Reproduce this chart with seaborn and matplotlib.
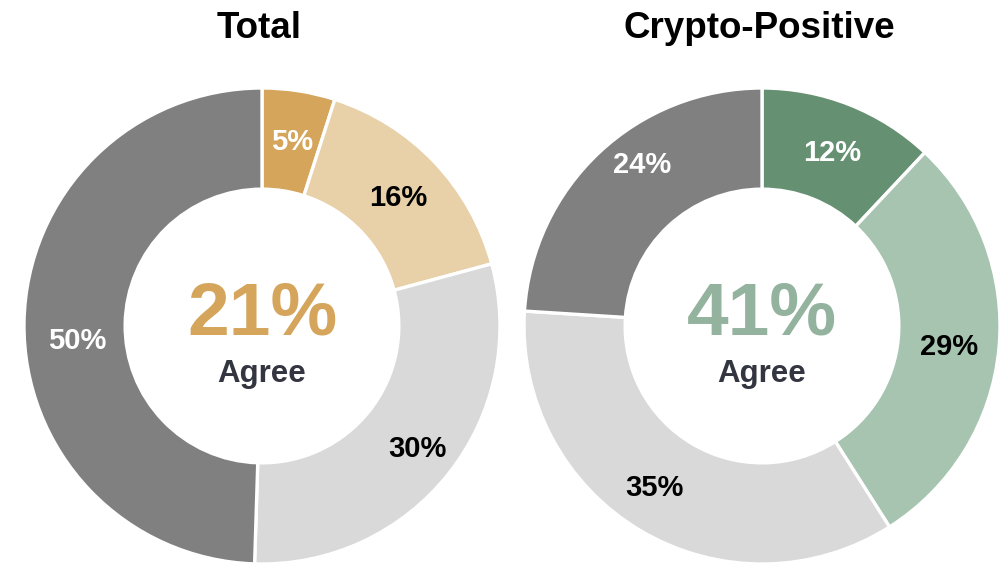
import matplotlib
matplotlib.use("Agg")
import matplotlib.pyplot as plt
import seaborn as sns

sns.set_theme(style="white")
plt.rcParams["font.family"] = ["Liberation Sans", "DejaVu Sans"]

# Survey answer shares, clockwise from the top
total_values = [5, 16, 30, 50]
total_colors = ["#D4A55B", "#E8D0A9", "#D9D9D9", "#808080"]
total_label_colors = ["white", "black", "black", "white"]
total_agree = 21

crypto_values = [12, 29, 35, 24]
crypto_colors = ["#659072", "#A6C4B0", "#D9D9D9", "#808080"]
crypto_label_colors = ["white", "black", "black", "white"]
crypto_agree = 41

titles = ["Total", "Crypto-Positive"]

# Small label nudges in pixels (right, down) away from the ring midline
total_nudges = [(1, 2), (0, 2), (8, 6), (3, 18)]
crypto_nudges = [(1, 2), (0, 3), (-12, 0), (9, -24)]

W, H = 1005, 569
fig = plt.figure(figsize=(W / 100, H / 100), dpi=100)
fig.patch.set_facecolor("white")

R_PX = 238
centers = [(262, 326), (762, 326)]

charts = [
    (total_values, total_colors, total_label_colors, total_agree, "#D4A55B", total_nudges),
    (crypto_values, crypto_colors, crypto_label_colors, crypto_agree, "#94B39E", crypto_nudges),
]

for (cx, cy), title, (vals, cols, lcols, agree, acol, nudges) in zip(centers, titles, charts):
    ax = fig.add_axes([(cx - R_PX) / W, (H - cy - R_PX) / H, 2 * R_PX / W, 2 * R_PX / H])
    wedges, texts, autotexts = ax.pie(
        vals,
        colors=cols,
        startangle=90,
        counterclock=False,
        radius=1.0,
        autopct=lambda p: "",
        pctdistance=0.79,
        wedgeprops=dict(width=0.425, edgecolor="white", linewidth=2.4),
    )
    for t, v, c, (dx, dy) in zip(autotexts, vals, lcols, nudges):
        x, y = t.get_position()
        t.set_position((x + dx / R_PX, y - dy / R_PX))
        t.set_text(f"{v}%")
        t.set_color(c)
        t.set_fontsize(21)
        t.set_fontweight("bold")
    ax.set_xlim(-1, 1)
    ax.set_ylim(-1, 1)
    ax.set_aspect("equal")
    ax.axis("off")
    ax.text(0, -0.035, f"{agree}%", ha="center", va="baseline",
            fontsize=54, fontweight="bold", color=acol)
    ax.text(0, -0.235, "Agree", ha="center", va="baseline",
            fontsize=22.5, fontweight="bold", color="#333640")
    ax.text(-0.013, 1.25, title, ha="center", va="center",
            fontsize=26.5, fontweight="bold", color="black", clip_on=False)

fig.savefig("out.png", dpi=100, facecolor="white")
